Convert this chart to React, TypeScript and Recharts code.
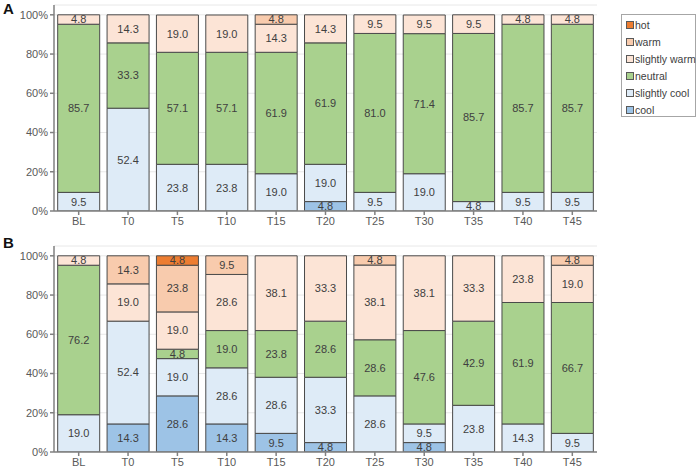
import { Bar, BarChart, CartesianGrid, LabelList, XAxis, YAxis } from "recharts";

const CATEGORIES = ["BL", "T0", "T5", "T10", "T15", "T20", "T25", "T30", "T35", "T40", "T45"];

// panel A, share of answers (%)
const A_COOL = [0, 0, 0, 0, 0, 4.8, 0, 0, 0, 0, 0];
const A_SLIGHTLY_COOL = [9.5, 52.4, 23.8, 23.8, 19.0, 19.0, 9.5, 19.0, 4.8, 9.5, 9.5];
const A_NEUTRAL = [85.7, 33.3, 57.1, 57.1, 61.9, 61.9, 81.0, 71.4, 85.7, 85.7, 85.7];
const A_SLIGHTLY_WARM = [4.8, 14.3, 19.0, 19.0, 14.3, 14.3, 9.5, 9.5, 9.5, 4.8, 4.8];
const A_WARM = [0, 0, 0, 0, 4.8, 0, 0, 0, 0, 0, 0];
const A_HOT = [0, 0, 0, 0, 0, 0, 0, 0, 0, 0, 0];

// panel B
const B_COOL = [0, 14.3, 28.6, 14.3, 9.5, 4.8, 0, 4.8, 0, 0, 0];
const B_SLIGHTLY_COOL = [19.0, 52.4, 19.0, 28.6, 28.6, 33.3, 28.6, 9.5, 23.8, 14.3, 9.5];
const B_NEUTRAL = [76.2, 0, 4.8, 19.0, 23.8, 28.6, 28.6, 47.6, 42.9, 61.9, 66.7];
const B_SLIGHTLY_WARM = [4.8, 19.0, 19.0, 28.6, 38.1, 33.3, 38.1, 38.1, 33.3, 23.8, 19.0];
const B_WARM = [0, 14.3, 23.8, 9.5, 0, 0, 4.8, 0, 0, 0, 4.8];
const B_HOT = [0, 0, 4.8, 0, 0, 0, 0, 0, 0, 0, 0];

const Y_TICKS = [0, 20, 40, 60, 80, 100];

const SERIES = [
  { key: "cool", color: "#9DC3E6" },
  { key: "slightly cool", color: "#DEEBF7" },
  { key: "neutral", color: "#A9D18E" },
  { key: "slightly warm", color: "#FCE4D6" },
  { key: "warm", color: "#F8CBAD" },
  { key: "hot", color: "#ED7D31" },
];

const FONT = "'Liberation Sans', Arial, sans-serif";

function buildRows(cols: number[][]) {
  return CATEGORIES.map((c, i) => {
    const row: Record<string, string | number> = { cat: c };
    SERIES.forEach((s, j) => {
      row[s.key] = cols[j][i];
    });
    return row;
  });
}

const rowsA = buildRows([A_COOL, A_SLIGHTLY_COOL, A_NEUTRAL, A_SLIGHTLY_WARM, A_WARM, A_HOT]);
const rowsB = buildRows([B_COOL, B_SLIGHTLY_COOL, B_NEUTRAL, B_SLIGHTLY_WARM, B_WARM, B_HOT]);

function Panel({ rows, xHeight, height }: { rows: Record<string, string | number>[]; xHeight: number; height: number }) {
  return (
    <BarChart
      width={600}
      height={height}
      data={rows}
      margin={{ top: 5, right: 3, bottom: 0, left: 0 }}
      barCategoryGap="7.5%"
    >
      <CartesianGrid stroke="#e8e8e8" vertical={false} />
      <XAxis
        dataKey="cat"
        height={xHeight}
        tickSize={4}
        tickMargin={2}
        stroke="#808080"
        strokeWidth={1.5}
        tick={{ fill: "#595959", fontSize: 11, fontFamily: FONT }}
        interval={0}
      />
      <YAxis
        width={54}
        domain={[0, 105]}
        ticks={Y_TICKS}
        tickFormatter={(v: number) => `${v}%`}
        tickSize={4}
        tickMargin={2}
        stroke="#808080"
        strokeWidth={1.5}
        tick={{ fill: "#595959", fontSize: 11, fontFamily: FONT }}
        allowDataOverflow
      />
      {SERIES.map((s) => (
        <Bar
          key={s.key}
          dataKey={s.key}
          stackId="a"
          fill={s.color}
          stroke="#4a4a4a"
          strokeWidth={1}
          isAnimationActive={false}
        >
          <LabelList
            dataKey={s.key}
            position="center"
            formatter={(v: any) => (v ? Number(v).toFixed(1) : "")}
            style={{ fill: "#404040", fontSize: 11, fontFamily: FONT }}
          />
        </Bar>
      ))}
    </BarChart>
  );
}

const LEGEND_ORDER = ["hot", "warm", "slightly warm", "neutral", "slightly cool", "cool"];

export default function App() {
  return (
    <div
      style={{
        position: "absolute",
        left: 0,
        top: 0,
        width: 698,
        height: 469,
        background: "#fff",
        overflow: "hidden",
        fontFamily: FONT,
      }}
    >
      <div style={{ position: "absolute", left: 0, top: 0 }}>
        <Panel rows={rowsA} xHeight={19} height={230} />
      </div>
      <div style={{ position: "absolute", left: 0, top: 241 }}>
        <Panel rows={rowsB} xHeight={17} height={228} />
      </div>
      <div style={{ position: "absolute", left: 3, top: 0, fontSize: 15, fontWeight: "bold", color: "#111" }}>A</div>
      <div style={{ position: "absolute", left: 3, top: 234, fontSize: 15, fontWeight: "bold", color: "#111" }}>B</div>
      <div
        style={{
          position: "absolute",
          left: 621,
          top: 14,
          width: 75,
          height: 103,
          border: "1px solid #a6a6a6",
          background: "#fff",
          paddingTop: 1,
          boxSizing: "border-box",
        }}
      >
        {LEGEND_ORDER.map((k) => {
          const s = SERIES.find((x) => x.key === k)!;
          return (
            <div
              key={k}
              style={{
                display: "flex",
                alignItems: "center",
                height: 17,
                paddingLeft: 4,
                fontSize: 10.5,
                color: "#404040",
                whiteSpace: "nowrap",
              }}
            >
              <span
                style={{
                  display: "inline-block",
                  flex: "0 0 auto",
                  width: 6,
                  height: 6,
                  background: s.color,
                  border: "1px solid #595959",
                  marginRight: 1,
                }}
              />
              {k}
            </div>
          );
        })}
      </div>
    </div>
  );
}
